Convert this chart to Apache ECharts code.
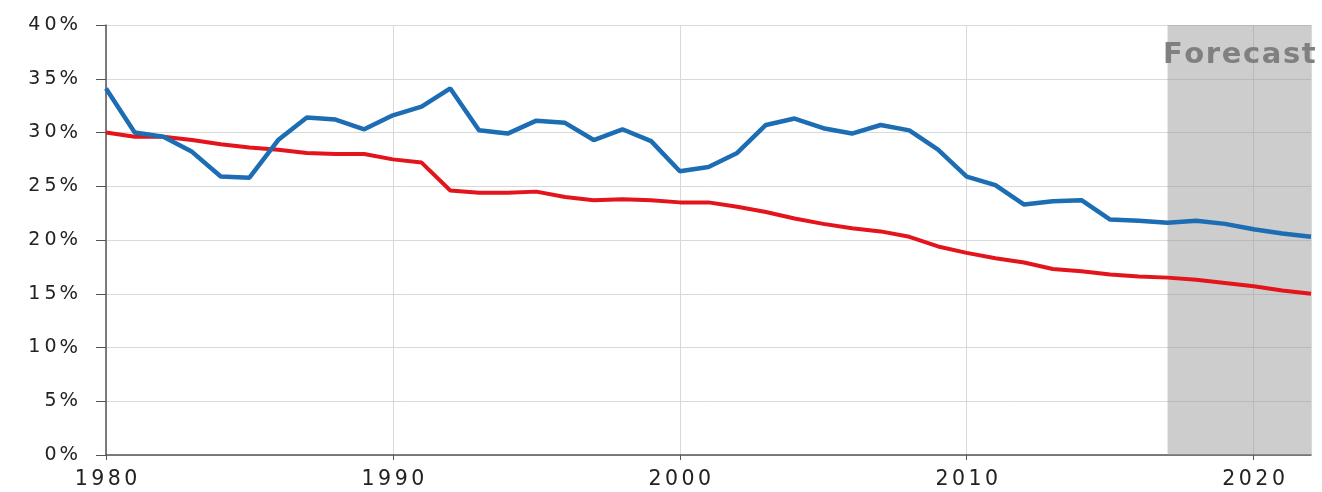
<!DOCTYPE html>
<html>
<head>
<meta charset="utf-8">
<script src="https://cdn.jsdelivr.net/npm/echarts@6/dist/echarts.min.js"></script>
<style>html,body{margin:0;padding:0;background:#fff}#c{width:1322px;height:492px}</style>
</head>
<body>
<div id="c"></div>
<script>
const years = [1980,1981,1982,1983,1984,1985,1986,1987,1988,1989,1990,1991,1992,1993,1994,1995,1996,1997,1998,1999,2000,2001,2002,2003,2004,2005,2006,2007,2008,2009,2010,2011,2012,2013,2014,2015,2016,2017,2018,2019,2020,2021,2022];
const blueSeries = [34.1,30.0,29.6,28.2,25.9,25.8,29.3,31.4,31.2,30.3,31.6,32.4,34.1,30.2,29.9,31.1,30.9,29.3,30.3,29.2,26.4,26.8,28.1,30.7,31.3,30.4,29.9,30.7,30.2,28.4,25.9,25.1,23.3,23.6,23.7,21.9,21.8,21.6,21.8,21.5,21.0,20.6,20.3];
const redSeries = [30.0,29.6,29.6,29.3,28.9,28.6,28.4,28.1,28.0,28.0,27.5,27.2,24.6,24.4,24.4,24.5,24.0,23.7,23.8,23.7,23.5,23.5,23.1,22.6,22.0,21.5,21.1,20.8,20.3,19.4,18.8,18.3,17.9,17.3,17.1,16.8,16.6,16.5,16.3,16.0,15.7,15.3,15.0];
const forecastStart = 2017;
const forecastEnd = 2022;
const forecastLabel = 'Forecast';

// wrap each character in a rich-text fragment so the wide, spaced lettering can be mimicked
const spaced = (s) => Array.from(String(s)).map(ch => (ch === '%' ? '{p|%}' : '{d|' + ch + '}')).join('');
const spacedBold = (s) => Array.from(String(s)).map(ch => '{f|' + ch + '}').join('');

const pair = (arr) => years.map((y, i) => [y, arr[i]]);
const chart = echarts.init(document.getElementById('c'));
chart.setOption({
  animation: false,
  backgroundColor: '#ffffff',
  grid: { left: 106, right: 11, top: 25, bottom: 37 },
  xAxis: {
    type: 'value', min: 1980, max: 2022, interval: 10,
    axisLine: { show: true, lineStyle: { color: '#555', width: 1.5 } },
    axisTick: { show: true, length: 5, lineStyle: { color: '#555' } },
    axisLabel: {
      showMaxLabel: false, margin: 14, color: '#222',
      formatter: v => spaced(v),
      rich: { d: { fontFamily: 'DejaVu Sans', fontSize: 20.5, color: '#222', padding: [0, 1.75, 0, 1.75] } }
    },
    splitLine: { show: true, lineStyle: { color: '#d9d9d9', width: 1 } }
  },
  yAxis: {
    type: 'value', min: 0, max: 40, interval: 5,
    axisLine: { show: true, lineStyle: { color: '#555', width: 1.5 } },
    axisTick: { show: true, length: 10, lineStyle: { color: '#555' } },
    axisLabel: {
      margin: 28, color: '#222',
      formatter: v => spaced(v + '%'),
      rich: {
        d: { fontFamily: 'DejaVu Sans', fontSize: 19, color: '#222', padding: [0, 2, 0, 2] },
        p: { fontFamily: 'DejaVu Sans', fontSize: 19.5, color: '#222', padding: [0, 0, 0, 1] }
      }
    },
    splitLine: { show: true, lineStyle: { color: '#d9d9d9', width: 1 } }
  },
  series: [
    {
      type: 'line', data: pair(redSeries), symbol: 'none',
      lineStyle: { color: '#e3141b', width: 4 }, z: 3,
      markArea: {
        silent: true,
        itemStyle: { color: 'rgba(150,150,150,0.48)' },
        label: {
          show: true, position: 'insideTop', distance: 16,
          formatter: p => spacedBold(p.name),
          rich: { f: { fontFamily: 'DejaVu Sans', fontWeight: 'bold', fontSize: 29, color: '#808080', padding: [0, 0.8, 0, 0.8] } }
        },
        data: [[{ xAxis: forecastStart, name: forecastLabel }, { xAxis: forecastEnd }]]
      }
    },
    {
      type: 'line', data: pair(blueSeries), symbol: 'none',
      lineStyle: { color: '#1c6db3', width: 4.5 }, z: 4
    }
  ]
});
</script>
</body>
</html>
